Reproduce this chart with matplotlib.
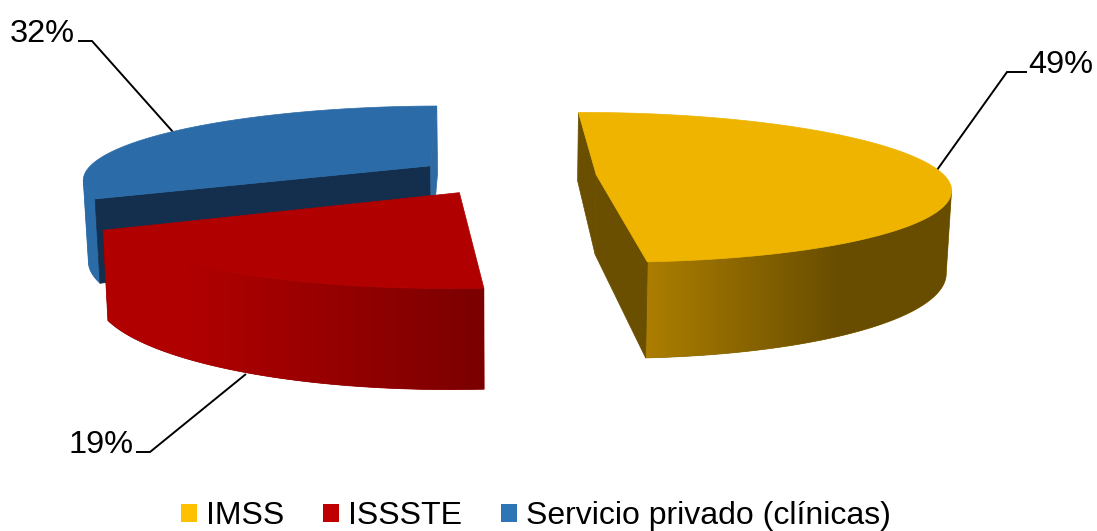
import numpy as np
import matplotlib
matplotlib.use("Agg")
import matplotlib.pyplot as plt
from matplotlib.patches import Polygon, Patch

plt.rcParams['font.family'] = ['Liberation Sans', 'DejaVu Sans']

categories = ["IMSS", "ISSSTE", "Servicio privado (clínicas)"]
shares = [49, 19, 32]
pct_labels = ["49%", "19%", "32%"]
top_colors = ["#EEB400", "#B00000", "#2B6CA8"]
legend_colors = ["#FFC000", "#C00000", "#2E75B6"]
# colour of the two radial walls of each slice (first edge, last edge); None = hidden
wall_colors = [("#6A4F00", "#6A4F00"), (None, None), ("#142F4D", "#2F6AA3")]
side_light = [(172, 126, 0), (176, 0, 0), (43, 108, 168)]
side_dark = [(104, 77, 0), (122, 0, 0), (43, 108, 168)]
grad_span = [(647, 840), (190, 488), (0, 1)]
label_pos = [(1061, 65), (101, 445), (42, 34)]
leader_paths = [[(937, 170), (1007, 72), (1027, 72)],
                [(246, 374), (150, 452), (136, 452)],
                [(173, 132), (92, 41), (78, 41)]]

START = -0.9
XC, YC, A, B, H = 506.0, 175.5, 348.0, 73.0, 80.0
K, M, EXPLODE = 0.17, 0.012, 0.26


def project(x, y, z):
    """disk coordinates (y towards the viewer), z = 0 top, 1 bottom -> pixels"""
    x, y, z = np.asarray(x, float), np.asarray(y, float), np.asarray(z, float)
    w = 1 - K * y
    s = 1 - M * z
    return XC + A * x / w * s, YC + B * y / w + H * z / w


fig = plt.figure(figsize=(10.97, 5.31), dpi=100)
ax = fig.add_axes([0, 0, 1, 1])

fractions = np.array(shares) / sum(shares)
edges = START + 360 * np.concatenate([[0], np.cumsum(fractions)])
wedges = []
for i in range(3):
    t0, t1 = edges[i], edges[i + 1]
    mid = np.radians((t0 + t1) / 2)
    cx, cy = EXPLODE * np.sin(mid), -EXPLODE * np.cos(mid)
    th = np.radians(np.linspace(t0, t1, 400))
    wedges.append((cx, cy, th, cx + np.sin(th), cy - np.cos(th)))


def poly(xs, ys, color, z):
    patch = Polygon(np.column_stack([xs, ys]), closed=True, facecolor=color,
                    edgecolor=color, linewidth=0.5, zorder=z)
    ax.add_patch(patch)
    return patch


for order, i in enumerate([2, 1, 0]):
    cx, cy, th, rx, ry = wedges[i]
    base = 2 + order * 3
    # outer curved wall, only the rim between the silhouette points that faces the viewer:
    # a horizontal gradient clipped to the wall outline
    idx = np.flatnonzero(-np.cos(th) >= 0)
    sx, _ = project(rx[idx], ry[idx], 0)
    j0, j1 = sorted((int(np.argmin(sx)), int(np.argmax(sx))))
    idx = idx[j0:j1 + 1]
    xt, yt = project(rx[idx], ry[idx], 0)
    xb, yb = project(rx[idx], ry[idx], 1)
    wx, wy = np.r_[xt, xb[::-1]], np.r_[yt, yb[::-1]]
    mean_col = tuple((side_light[i][c] + side_dark[i][c]) / 510 for c in range(3))
    clip = poly(wx, wy, mean_col, base - 0.5)
    xs = np.linspace(wx.min(), wx.max(), 400)
    lo, hi = grad_span[i]
    t = np.clip((xs - lo) / (hi - lo), 0, 1)[None, :, None]
    img = (np.array(side_light[i])[None, None, :] + (np.array(side_dark[i]) - np.array(side_light[i]))[None, None, :] * t) / 255
    im = ax.imshow(img, extent=(wx.min(), wx.max(), wy.max(), wy.min()), aspect="auto",
                   interpolation="bilinear", zorder=base)
    im.set_clip_path(clip)
    # radial walls
    for (ex, ey), col in zip(((rx[0], ry[0]), (rx[-1], ry[-1])), wall_colors[i]):
        if col is not None:
            X, Y = project([cx, ex, ex, cx], [cy, ey, ey, cy], [0, 0, 1, 1])
            poly(X, Y, col, base + 1)
    # top face
    X, Y = project(np.r_[cx, rx], np.r_[cy, ry], 0)
    poly(X, Y, top_colors[i], base + 2)

ax.set_xlim(0, 1097)
ax.set_ylim(531, 0)
ax.axis("off")

for i in range(3):
    ax.plot(*zip(*leader_paths[i]), color="black", lw=1.4, zorder=1,
            solid_capstyle="butt", solid_joinstyle="miter")
    ax.text(*label_pos[i], pct_labels[i], fontsize=23.4, ha="center", va="center", color="black")

handles = [Patch(facecolor=c, edgecolor="none") for c in legend_colors]
ax.legend(handles, categories, ncol=3, frameon=False, fontsize=23,
          loc="lower center", bbox_to_anchor=(536 / 1097, -0.03),
          handlelength=0.5, handleheight=0.5, handletextpad=0.27, columnspacing=1.23,
          borderpad=0, labelspacing=0)

fig.savefig("out.png", dpi=100)
